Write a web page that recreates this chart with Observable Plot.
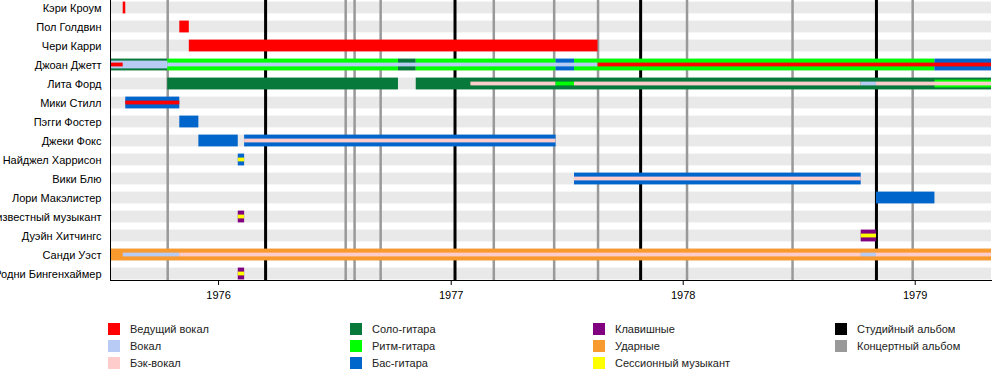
<!DOCTYPE html>
<html>
<head>
<meta charset="utf-8">
<script src="https://cdn.jsdelivr.net/npm/d3@7"></script>
<script src="https://cdn.jsdelivr.net/npm/@observablehq/plot@0.6"></script>
<style>
  body { margin: 0; background: #fff; font-family: "Liberation Sans", Arial, sans-serif; color: #000; }
  #chart svg { display: block; }
  #legend { position: relative; width: 1000px; height: 75px; font-size: 11px; color: #222; }
  .item { position: absolute; height: 13px; display: flex; align-items: center; white-space: nowrap; }
  .sw { width: 12px; height: 12px; margin-right: 10px; flex: none; }
</style>
</head>
<body>
<div id="chart"></div>
<div id="legend"></div>
<script>
// ---- data ----
const members = ["Кэри Кроум", "Пол Голдвин", "Чери Карри", "Джоан Джетт", "Лита Форд", "Мики Стилл",
  "Пэгги Фостер", "Джеки Фокс", "Найджел Харрисон", "Вики Блю", "Лори Макэлистер",
  "Неизвестный музыкант", "Дуэйн Хитчингс", "Санди Уэст", "Родни Бингенхаймер"];

const period = ["1975-07-15", "1979-05-01"];
const yearTicks = ["1976-01-01", "1977-01-01", "1978-01-01", "1979-01-01"];

const roleKeys = ["lead", "vocals", "backing", "leadg", "rhythm", "bass", "keys", "drums", "session", "studio", "live"];
const roleLabels = ["Ведущий вокал", "Вокал", "Бэк-вокал", "Соло-гитара", "Ритм-гитара", "Бас-гитара",
  "Клавишные", "Ударные", "Сессионный музыкант", "Студийный альбом", "Концертный альбом"];
const roleColors = ["#ff0000", "#b7cbf5", "#ffcccc", "#07793a", "#00ff00", "#0066cc",
  "#800080", "#f99a2e", "#ffff00", "#000000", "#999999"];

// outer (full-width) bars: [member, role, from, till]
const mainBars = [
  ["Кэри Кроум", "lead", "1975-08-04", "1975-08-08"],
  ["Пол Голдвин", "lead", "1975-11-01", "1975-11-16"],
  ["Чери Карри", "lead", "1975-11-16", "1977-08-20"],
  ["Джоан Джетт", "leadg", "1975-07-15", "1975-10-13"],
  ["Джоан Джетт", "rhythm", "1975-10-13", "1976-10-10"],
  ["Джоан Джетт", "leadg", "1976-10-10", "1976-11-07"],
  ["Джоан Джетт", "rhythm", "1976-11-07", "1977-06-15"],
  ["Джоан Джетт", "bass", "1977-06-15", "1977-07-14"],
  ["Джоан Джетт", "rhythm", "1977-07-14", "1979-02-01"],
  ["Джоан Джетт", "bass", "1979-02-01", "1979-05-01"],
  ["Лита Форд", "leadg", "1975-10-13", "1976-10-10"],
  ["Лита Форд", "leadg", "1976-11-07", "1979-05-01"],
  ["Мики Стилл", "bass", "1975-08-08", "1975-11-01"],
  ["Пэгги Фостер", "bass", "1975-11-01", "1975-12-01"],
  ["Джеки Фокс", "bass", "1975-12-01", "1976-02-01"],
  ["Джеки Фокс", "bass", "1976-02-11", "1977-06-15"],
  ["Найджел Харрисон", "bass", "1976-02-01", "1976-02-11"],
  ["Вики Блю", "bass", "1977-07-14", "1978-10-08"],
  ["Лори Макэлистер", "bass", "1978-11-01", "1979-02-01"],
  ["Неизвестный музыкант", "keys", "1976-02-01", "1976-02-11"],
  ["Дуэйн Хитчингс", "keys", "1978-10-08", "1978-11-01"],
  ["Санди Уэст", "drums", "1975-07-15", "1979-05-01"],
  ["Родни Бингенхаймер", "keys", "1976-02-01", "1976-02-11"]
];

// medium-width bars
const midBars = [
  ["Джоан Джетт", "vocals", "1975-07-15", "1975-10-13"],
  ["Лита Форд", "rhythm", "1979-02-01", "1979-05-01"]
];

// thin inner bars
const innerBars = [
  ["Джоан Джетт", "lead", "1975-07-15", "1975-08-04"],
  ["Джоан Джетт", "vocals", "1975-10-13", "1977-08-20"],
  ["Джоан Джетт", "lead", "1977-08-20", "1979-05-01"],
  ["Лита Форд", "backing", "1977-02-01", "1977-06-15"],
  ["Лита Форд", "rhythm", "1977-06-15", "1977-07-14"],
  ["Лита Форд", "backing", "1977-07-14", "1978-10-08"],
  ["Лита Форд", "vocals", "1978-10-08", "1978-11-01"],
  ["Лита Форд", "backing", "1978-11-01", "1979-05-01"],
  ["Мики Стилл", "lead", "1975-08-08", "1975-11-01"],
  ["Джеки Фокс", "backing", "1976-02-11", "1977-06-15"],
  ["Найджел Харрисон", "session", "1976-02-01", "1976-02-11"],
  ["Вики Блю", "backing", "1977-07-14", "1978-10-08"],
  ["Неизвестный музыкант", "session", "1976-02-01", "1976-02-11"],
  ["Дуэйн Хитчингс", "session", "1978-10-08", "1978-11-01"],
  ["Санди Уэст", "vocals", "1975-08-04", "1975-11-01"],
  ["Санди Уэст", "backing", "1975-11-01", "1978-10-08"],
  ["Санди Уэст", "vocals", "1978-10-08", "1978-11-01"],
  ["Санди Уэст", "backing", "1978-11-01", "1979-05-01"],
  ["Родни Бингенхаймер", "session", "1976-02-01", "1976-02-11"]
];

const studioAlbums = ["1976-03-15", "1977-01-07", "1977-10-26", "1978-11-01"];
const liveAlbums = ["1975-10-13", "1976-07-19", "1976-08-02", "1976-09-12", "1977-03-09",
  "1977-06-12", "1977-08-20", "1978-01-07", "1978-06-22", "1978-12-28"];

// ---- chart ----
const D = s => new Date(s);
const toRows = arr => arr.map(([member, role, from, till]) => ({member, role, from: D(from), till: D(till)}));
const colorOf = Object.fromEntries(roleKeys.map((k, i) => [k, roleColors[i]]));

const band = 19.21;
const inset = h => (band - h) / 2;

const chart = Plot.plot({
  width: 1000,
  height: 305,
  marginLeft: 110,
  marginRight: 9,
  marginTop: 0,
  marginBottom: 25,
  style: {fontFamily: '"Liberation Sans", Arial, sans-serif', fontSize: "11px", color: "#000", background: "#fff"},
  x: {type: "utc", domain: period.map(D), ticks: yearTicks.map(D), tickFormat: d3.utcFormat("%Y"),
      tickSize: 5, tickPadding: 6, label: null, line: true},
  y: {domain: members, range: [6 - band / 2, 6 - band / 2 + band * members.length], padding: 0,
      tickSize: 0, tickPadding: 9, label: null},
  color: {domain: roleKeys, range: roleColors},
  marks: [
    Plot.barX(members, {y: d => d, x1: () => D(period[0]), x2: () => D(period[1]), fill: "#e9e9e9",
      insetTop: inset(12), insetBottom: inset(12)}),
    Plot.ruleX(liveAlbums, {x: D, stroke: colorOf.live, strokeWidth: 2.5}),
    Plot.ruleX(studioAlbums, {x: D, stroke: colorOf.studio, strokeWidth: 3}),
    Plot.barX(toRows(mainBars), {y: "member", x1: "from", x2: "till", fill: "role",
      insetTop: inset(12), insetBottom: inset(12)}),
    Plot.barX(toRows(midBars), {y: "member", x1: "from", x2: "till", fill: "role",
      insetTop: inset(8), insetBottom: inset(8)}),
    Plot.barX(toRows(innerBars), {y: "member", x1: "from", x2: "till", fill: "role",
      insetTop: inset(4), insetBottom: inset(4)}),
    Plot.ruleX([period[0]], {x: D, stroke: "#000", strokeWidth: 1})
  ]
});
document.getElementById("chart").appendChild(chart);

// ---- legend ----
const legend = document.getElementById("legend");
const colLeft = [108, 350, 593, 835];
const legendCols = [[0, 1, 2], [3, 4, 5], [6, 7, 8], [9, 10]];
legendCols.forEach((col, ci) => col.forEach((idx, ri) => {
  const it = document.createElement("div");
  it.className = "item";
  it.style.left = colLeft[ci] + "px";
  it.style.top = (17 + ri * 17) + "px";
  const sw = document.createElement("span");
  sw.className = "sw";
  sw.style.background = roleColors[idx];
  const tx = document.createElement("span");
  tx.textContent = roleLabels[idx];
  it.appendChild(sw);
  it.appendChild(tx);
  legend.appendChild(it);
}));
</script>
</body>
</html>
